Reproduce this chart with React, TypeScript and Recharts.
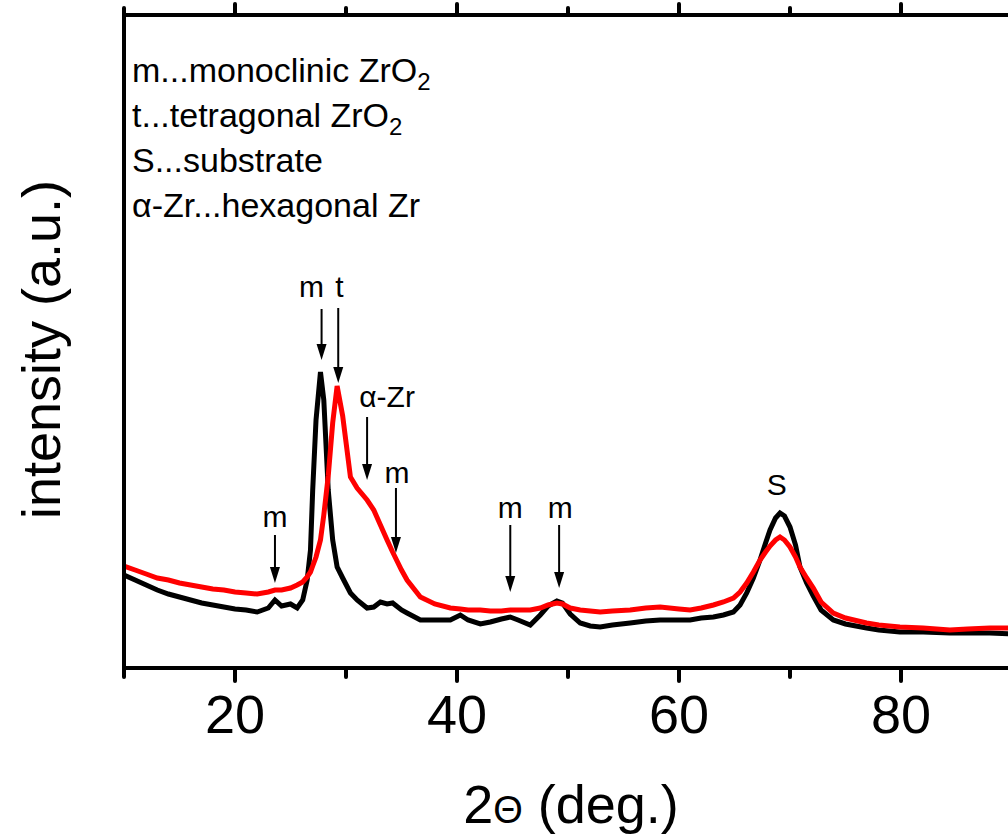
import React from 'react';
import { LineChart, Line, XAxis, YAxis, ReferenceLine, ReferenceDot } from 'recharts';

const FONT = '"Liberation Sans", Arial, sans-serif';

// 2-theta positions (deg.)
const twoTheta = [
  10, 11, 12, 13, 14, 15, 16, 17, 18, 19, 20, 21, 22, 23, 23.6, 24.2, 25, 25.6, 26.1, 26.5,
  26.8, 27.0, 27.3, 27.7, 28.0, 28.4, 28.8, 29.2, 29.7, 30.4, 31.0, 31.9, 32.5, 33.1, 33.7, 34.2,
  35.0, 35.5, 36.7, 38, 39.4, 40.3, 41, 42.1, 43, 44, 44.8, 45.5, 46.6, 47.5, 48.2, 49.0,
  49.5, 50.2, 51.1, 52, 52.9, 54, 55.6, 57, 58.3, 60, 61, 62, 63.1, 64, 64.9, 65.5,
  66.1, 66.7, 67.3, 67.8, 68.2, 68.7, 69.1, 69.5, 70.0, 70.5, 70.9, 71.5, 72.1, 72.8, 73.9, 75,
  76.9, 78, 79.9, 82, 84.4, 86, 88, 90,
];

// black pattern
const blackCounts = [
  93, 88, 83, 78, 74, 71, 68, 65, 63, 61, 59, 58, 56, 60, 68, 62, 64, 60, 68, 88,
  118, 178, 248, 296, 268, 178, 128, 101, 90, 75, 68, 60, 61, 66, 64, 65,
  58, 55, 48, 48, 48, 53, 48, 44, 46, 49, 51, 48, 43, 53, 62, 67,
  65, 54, 45, 42, 41, 43, 45, 47, 48, 48, 48, 50, 51, 53, 56, 63,
  75, 90, 108, 125, 138, 150, 155, 152, 141, 123, 101, 85, 72, 58, 48, 44,
  40, 38, 36, 36, 35, 35, 35, 34,
];

// red pattern
const redCounts = [
  102, 98, 94, 90, 88, 85, 83, 81, 79, 78, 76, 75, 74, 76, 78, 78, 80, 83, 86, 91,
  96, 102, 111, 128, 153, 192, 245, 282, 252, 191, 180, 168, 158, 143, 128, 116,
  98, 88, 71, 64, 60, 59, 58, 58, 57, 57, 58, 58, 58, 60, 63, 65,
  64, 60, 58, 57, 56, 57, 58, 60, 61, 59, 58, 60, 63, 66, 70, 76,
  85, 96, 108, 116, 122, 128, 131, 128, 121, 111, 101, 90, 80, 66, 55, 50,
  45, 43, 41, 40, 38, 39, 40, 40,
];

const xTicks = [10, 20, 30, 40, 50, 60, 70, 80, 90];
const majorTicks = [20, 40, 60, 80];

// peak annotations
const peakNames = ['m', 'm', 't', 'α-Zr', 'm', 'm', 'm', 'S'];
const labelX = [23.6, 26.9, 29.4, 33.7, 34.6, 44.8, 49.3, 68.8];
const labelY = [141, 371, 371, 261, 185, 150, 150, 173];
const arrowX = [23.6, 27.8, 29.3, 31.9, 34.5, 44.8, 49.2, null];
const arrowTop = [133, 359, 360, 251, 180, 143, 143, null];
const arrowTip = [85, 308, 285, 188, 115, 76, 80, null];

const legendLines = [
  { text: 'm...monoclinic ZrO', sub: '2' },
  { text: 't...tetragonal ZrO', sub: '2' },
  { text: 'S...substrate', sub: '' },
  { text: 'α-Zr...hexagonal Zr', sub: '' },
];

const data = twoTheta.map((t, i) => ({ t, black: blackCounts[i], red: redCounts[i] }));

const BottomTick = (props: any) => {
  const { x, y, payload } = props;
  const major = majorTicks.includes(payload.value);
  return (
    <g>
      <line x1={x} x2={x} y1={y} y2={y + (major ? 13 : 9)} stroke="#000" strokeWidth={4} strokeLinecap="round" />
      {major && (
        <text x={x} y={y + 65} textAnchor="middle" fontSize={54} fontFamily={FONT} fill="#000">
          {payload.value}
        </text>
      )}
    </g>
  );
};

const TopTick = (props: any) => {
  const { x, y, payload } = props;
  const major = majorTicks.includes(payload.value);
  return <line x1={x} x2={x} y1={y} y2={y - (major ? 11 : 7)} stroke="#000" strokeWidth={4} strokeLinecap="round" />;
};

const ArrowShape = (p: any) => {
  const { x1, y1, x2, y2 } = p;
  return (
    <g>
      <line x1={x1} y1={y1} x2={x2} y2={y2 - 12} stroke="#000" strokeWidth={2} />
      <polygon points={`${x2 - 5},${y2 - 16} ${x2 + 5},${y2 - 16} ${x2},${y2}`} fill="#000" />
    </g>
  );
};

const LegendBlock = (props: any) => {
  const vb = props.viewBox || { x: 124, y: 0 };
  const x0 = vb.x + 8;
  return (
    <g fontFamily={FONT} fontSize={34} fill="#000">
      {legendLines.map((l, i) => (
        <text key={i} x={x0} y={82 + i * 45}>
          {l.text}
          {l.sub && (
            <tspan fontSize={24} dy={8}>
              {l.sub}
            </tspan>
          )}
        </text>
      ))}
    </g>
  );
};

const XTitle = (props: any) => {
  const vb = props.viewBox || { x: 124, y: 668, width: 888 };
  return (
    <text x={vb.x + vb.width / 2 + 3} y={vb.y + 155} textAnchor="middle" fontSize={54} fontFamily={FONT} fill="#000">
      2<tspan fontSize={38}>Θ</tspan> (deg.)
    </text>
  );
};

const YTitle = (props: any) => {
  const vb = props.viewBox || { x: 0, y: 15, height: 653 };
  const cx = vb.x + 60;
  const cy = vb.y + vb.height / 2 + 8;
  return (
    <text x={cx} y={cy} transform={`rotate(-90, ${cx}, ${cy})`} textAnchor="middle" fontSize={54} fontFamily={FONT} fill="#000">
      intensity (a.u.)
    </text>
  );
};

export default function App() {
  return (
    <div style={{ position: 'absolute', left: 0, top: 0, width: 1008, height: 834, overflow: 'hidden', background: '#fff' }}>
      <LineChart width={1016} height={834} data={data} margin={{ top: 0, right: 4, bottom: 0, left: 0 }}>
        <XAxis
          dataKey="t"
          type="number"
          domain={[10, 90]}
          ticks={xTicks}
          interval={0}
          allowDataOverflow
          height={166}
          tickSize={0}
          tickMargin={0}
          tickLine={false}
          tick={<BottomTick />}
          axisLine={{ stroke: '#000', strokeWidth: 4 }}
          label={{ content: XTitle }}
        />
        <XAxis
          xAxisId="top"
          orientation="top"
          dataKey="t"
          type="number"
          domain={[10, 90]}
          ticks={xTicks}
          interval={0}
          allowDataOverflow
          height={15}
          tickSize={0}
          tickMargin={0}
          tickLine={false}
          tick={<TopTick />}
          axisLine={{ stroke: '#000', strokeWidth: 4 }}
          label={{ content: LegendBlock }}
        />
        <YAxis
          type="number"
          domain={[0, 653]}
          allowDataOverflow
          width={124}
          tick={false}
          tickLine={false}
          axisLine={{ stroke: '#000', strokeWidth: 4 }}
          label={{ content: YTitle }}
        />
        <Line type="linear" dataKey="black" stroke="#000" strokeWidth={5} dot={false} isAnimationActive={false} />
        <Line type="linear" dataKey="red" stroke="#ff0000" strokeWidth={5} dot={false} isAnimationActive={false} />
        {arrowX.map((ax, i) =>
          ax === null ? null : (
            <ReferenceLine
              key={`a${i}`}
              segment={[
                { x: ax, y: arrowTop[i] as number },
                { x: ax, y: arrowTip[i] as number },
              ]}
              shape={ArrowShape}
            />
          )
        )}
        {peakNames.map((name, i) => (
          <ReferenceDot
            key={`l${i}`}
            x={labelX[i]}
            y={labelY[i]}
            r={0}
            shape={(p: any) => (
              <text x={p.cx} y={p.cy} textAnchor="middle" fontSize={30} fontFamily={FONT} fill="#000">
                {name}
              </text>
            )}
          />
        ))}
      </LineChart>
    </div>
  );
}
